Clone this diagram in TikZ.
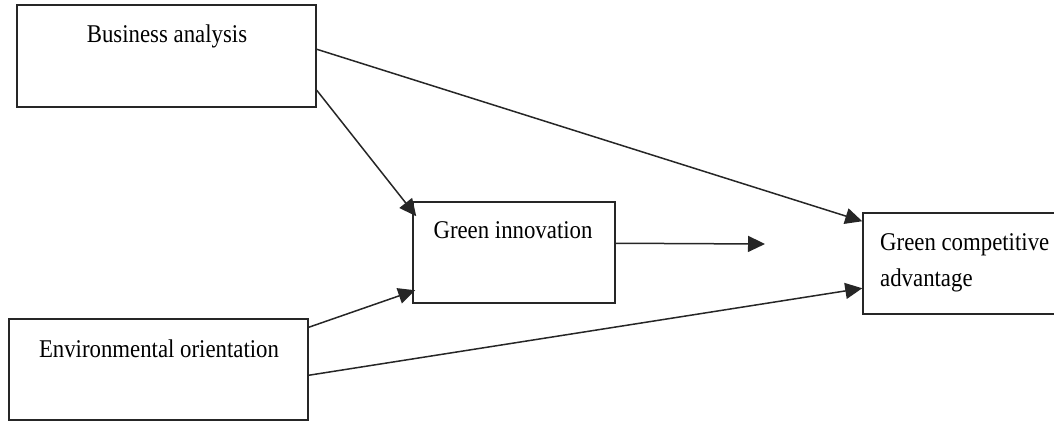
\documentclass[tikz,border=0pt]{standalone}
\usepackage{fontspec}
\setmainfont{Liberation Serif}
\usetikzlibrary{arrows.meta,calc}
\newcommand{\vs}[1]{\scalebox{1}[1.12]{#1}}
\begin{document}
\begin{tikzpicture}[x=1pt,y=-1pt,
  box/.style={draw=black!85,line width=1.5pt,inner sep=0pt,fill=white},
  lbl/.style={font=\fontsize{22.8}{33}\selectfont,inner sep=0pt,text=black},
  conn/.style={draw=black!85,line width=1.5pt,-{Triangle[length=17pt,width=16pt]}}]
\useasboundingbox (0,0) rectangle (1054,421);
\clip (0,0) rectangle (1054,421);
% boxes
\node[box,minimum width=299pt,minimum height=102pt] (ba) at (166.5,56) {};
\node[box,minimum width=202pt,minimum height=101pt] (gi) at (514,252.5) {};
\node[box,minimum width=299pt,minimum height=101pt] (eo) at (158.5,369.5) {};
\node[box,minimum width=240pt,minimum height=101pt] (gca) at (983,263.5) {};
% labels
\node[lbl,anchor=base] (bat) at (167,42) {\vs{Business analysis}};
\node[lbl,anchor=base] (git) at (513,238) {\vs{Green innovation}};
\node[lbl,anchor=base] (eot) at (159,357) {\vs{Environmental orientation}};
\node[lbl,anchor=base west] (gcat) at (880,250) {\vs{\begin{tabular}[t]{@{}l@{}}Green competitive\\advantage\end{tabular}}};
% connector end points
\coordinate (ba1) at ($(ba.north east)+(0,45)$);
\coordinate (ba2) at ($(ba.north east)+(0,86)$);
\coordinate (eo1) at ($(eo.north east)+(0,9)$);
\coordinate (eo2) at ($(eo.north east)+(0,57)$);
\coordinate (gca1) at ($(gca.north west)+(0,9)$);
\coordinate (gca2) at ($(gca.north west)+(0,76)$);
\coordinate (gi1) at ($(gi.north west)+(4,15)$);
\coordinate (gi2) at ($(gi.north west)+(3,89)$);
\coordinate (gi3) at ($(gi.north east)+(0,42)$);
\coordinate (free) at (765,244);
% connectors
\draw[conn] (ba1) -- (gca1);
\draw[conn] (ba2) -- (gi1);
\draw[conn] (gi3) -- (free);
\draw[conn] (eo1) -- (gi2);
\draw[conn] (eo2) -- (gca2);
\end{tikzpicture}
\end{document}
